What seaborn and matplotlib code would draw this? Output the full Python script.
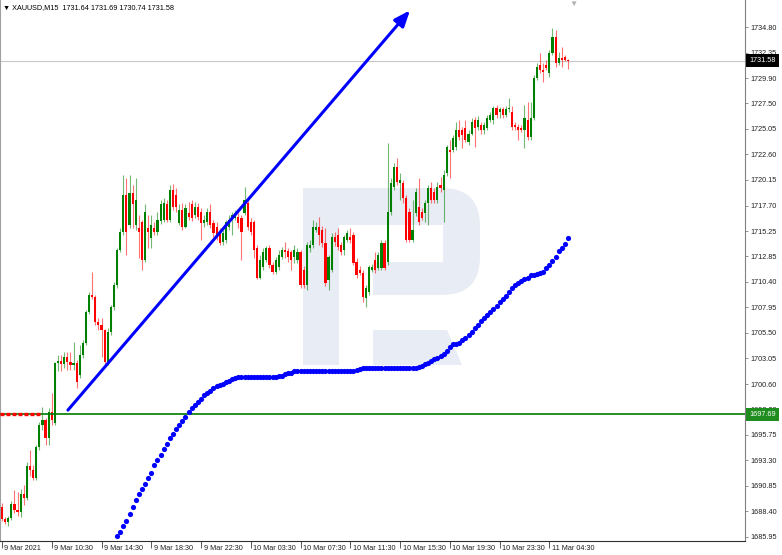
import matplotlib
matplotlib.use("Agg")
import matplotlib.pyplot as plt
import matplotlib.transforms as mtransforms
from matplotlib.patches import FancyBboxPatch, Rectangle, Polygon
import numpy as np
import pandas as pd
import seaborn as sns

# ---------------- data (XAUUSD, M15) ----------------
symbol = "XAUUSD"
timeframe = "M15"

opens = [
    1688.8, 1687.7, 1687.4, 1687.8, 1689.1, 1688.5, 1688.3, 1690.1, 1689.7, 1692.7,
    1692.4, 1691.6, 1694.6, 1696.7, 1697.2, 1695.4, 1697.9, 1696.9, 1702.6, 1702.8,
    1702.5, 1703.2, 1702.7, 1702.4, 1702.6, 1701.5, 1703.4, 1704.5, 1707.5, 1709.1,
    1708.9, 1706.5, 1706.3, 1705.8, 1702.7, 1705.6, 1708.0, 1710.1, 1713.4, 1715.2,
    1718.7, 1715.8, 1718.9, 1715.8, 1715.5, 1716.1, 1712.5, 1715.5, 1714.6, 1715.5,
    1715.2, 1716.2, 1716.3, 1717.8, 1716.3, 1719.2, 1718.7, 1716.0, 1717.3, 1715.6,
    1717.0, 1717.8, 1716.8, 1717.6, 1717.1, 1716.0, 1716.1, 1717.1, 1716.0, 1715.6,
    1715.2, 1714.2, 1714.4, 1715.6, 1716.5, 1716.5, 1716.6, 1716.5, 1717.0, 1717.9,
    1716.1, 1716.1, 1713.6, 1710.8, 1711.8, 1712.5, 1713.6, 1712.0, 1711.3, 1711.8,
    1712.8, 1713.4, 1713.3, 1713.2, 1712.8,
    1712.5, 1713.2, 1711.5, 1710.1, 1713.6, 1713.9, 1715.4, 1715.6, 1715.4, 1714.1,
    1710.6, 1711.5, 1714.7, 1714.9, 1713.9, 1713.4, 1714.4, 1714.7, 1714.9, 1712.3,
    1711.5, 1711.2, 1708.8, 1709.4, 1711.5, 1712.5, 1711.7, 1711.7, 1714.1, 1712.3,
    1717.1, 1719.5, 1721.4, 1719.9, 1719.9, 1718.4, 1717.1, 1714.4, 1717.0, 1717.6,
    1717.1, 1717.0, 1717.9, 1719.4, 1719.0, 1718.2, 1719.7, 1719.2, 1720.8, 1723.0,
    1723.0, 1723.3, 1724.9, 1724.9, 1725.1, 1723.8, 1724.6, 1725.9, 1725.2, 1725.4,
    1724.9, 1725.1, 1725.9, 1725.9, 1727.0, 1726.7, 1726.9, 1726.4, 1726.9, 1726.7,
    1725.4, 1725.2, 1725.1, 1724.9, 1725.9, 1724.3, 1726.1, 1729.9, 1731.2, 1730.7,
    1731.2, 1730.4, 1732.3, 1733.8, 1731.4, 1731.8, 1731.9, 1731.64,
]
highs = [
    1689.2, 1687.9, 1688.0, 1689.4, 1690.4, 1690.3, 1690.5, 1690.9, 1693.1, 1694.3,
    1692.8, 1694.8, 1697.0, 1698.4, 1697.3, 1698.3, 1699.7, 1702.7, 1703.4, 1703.4,
    1703.7, 1703.7, 1703.7, 1704.6, 1702.9, 1704.3, 1704.8, 1707.7, 1709.4, 1711.3,
    1709.1, 1706.9, 1706.9, 1705.9, 1706.0, 1708.2, 1710.4, 1713.6, 1715.5, 1720.6,
    1720.3, 1720.6, 1719.7, 1720.3, 1716.8, 1716.3, 1717.8, 1716.8, 1716.8, 1716.1,
    1717.1, 1718.2, 1718.4, 1718.2, 1719.7, 1719.8, 1719.4, 1717.8, 1717.9, 1717.8,
    1718.0, 1718.2, 1718.0, 1717.9, 1717.5, 1716.8, 1717.5, 1717.8, 1716.3, 1716.1,
    1715.5, 1715.4, 1716.3, 1716.8, 1717.1, 1717.3, 1717.0, 1716.8, 1719.5, 1718.2,
    1716.5, 1716.3, 1713.9, 1713.0, 1713.6, 1713.8, 1713.9, 1712.3, 1712.8, 1713.4,
    1713.7, 1714.2, 1713.6, 1713.4, 1713.9,
    1713.6, 1713.4, 1711.9, 1714.2, 1714.4, 1716.3, 1716.1, 1716.6, 1715.7, 1715.5,
    1713.0, 1715.1, 1715.2, 1715.5, 1714.2, 1714.9, 1715.4, 1715.5, 1715.2, 1712.7,
    1711.9, 1711.5, 1710.1, 1712.0, 1712.1, 1713.2, 1713.2, 1714.4, 1714.4, 1723.7,
    1720.3, 1721.8, 1722.3, 1720.8, 1720.1, 1718.7, 1717.5, 1718.2, 1719.4, 1720.3,
    1717.5, 1718.2, 1719.7, 1720.0, 1719.4, 1720.0, 1720.4, 1721.1, 1723.5, 1724.0,
    1724.5, 1725.7, 1725.9, 1725.2, 1725.9, 1724.9, 1726.1, 1726.2, 1726.3, 1725.7,
    1725.7, 1726.4, 1726.7, 1727.2, 1727.3, 1727.1, 1727.1, 1727.2, 1728.0, 1727.2,
    1725.7, 1725.5, 1725.4, 1727.3, 1727.6, 1727.6, 1730.2, 1731.4, 1732.3, 1731.4,
    1731.6, 1732.6, 1734.7, 1734.5, 1732.4, 1732.9, 1732.1, 1731.69,
]
lows = [
    1687.5, 1687.2, 1687.0, 1687.6, 1688.2, 1688.0, 1687.9, 1689.0, 1689.5, 1691.8,
    1691.4, 1691.4, 1694.3, 1696.2, 1694.8, 1694.8, 1696.7, 1696.7, 1701.8, 1701.8,
    1702.1, 1701.9, 1701.9, 1701.9, 1700.2, 1701.2, 1703.1, 1704.3, 1707.3, 1708.7,
    1706.3, 1705.8, 1703.2, 1702.4, 1702.4, 1705.3, 1707.7, 1709.8, 1713.2, 1714.9,
    1713.0, 1715.5, 1715.5, 1715.4, 1712.7, 1711.5, 1712.3, 1713.6, 1713.6, 1714.9,
    1714.9, 1715.9, 1716.1, 1716.1, 1716.1, 1717.3, 1717.1, 1715.8, 1715.4, 1715.5,
    1716.3, 1716.2, 1716.5, 1716.3, 1714.4, 1715.6, 1715.8, 1715.5, 1714.7, 1714.4,
    1713.9, 1713.9, 1714.1, 1715.4, 1714.9, 1716.3, 1715.5, 1712.5, 1716.8, 1715.4,
    1714.9, 1712.7, 1710.7, 1710.7, 1711.5, 1712.3, 1711.7, 1711.1, 1711.1, 1711.5,
    1712.6, 1712.7, 1712.3, 1711.5, 1712.2,
    1712.2, 1709.8, 1709.8, 1709.6, 1713.2, 1713.6, 1715.2, 1713.9, 1713.7, 1710.0,
    1709.6, 1711.3, 1713.8, 1713.4, 1713.0, 1713.0, 1714.2, 1714.1, 1712.0, 1710.8,
    1711.0, 1708.5, 1708.0, 1709.1, 1711.3, 1711.2, 1711.5, 1711.5, 1711.5, 1712.0,
    1716.8, 1719.2, 1719.7, 1718.2, 1717.9, 1714.2, 1714.2, 1714.2, 1716.7, 1715.8,
    1716.3, 1716.1, 1715.8, 1717.9, 1717.9, 1717.9, 1719.0, 1716.1, 1720.5, 1720.3,
    1722.8, 1723.0, 1724.0, 1723.2, 1723.8, 1723.5, 1724.5, 1723.3, 1724.9, 1724.6,
    1724.6, 1724.9, 1725.7, 1725.5, 1726.1, 1726.1, 1726.1, 1726.2, 1726.7, 1724.9,
    1724.9, 1724.0, 1724.7, 1723.2, 1724.0, 1724.0, 1725.9, 1729.7, 1730.4, 1729.5,
    1730.7, 1730.0, 1732.1, 1731.0, 1731.2, 1731.0, 1731.5, 1730.74,
]
closes = [
    1687.7, 1687.4, 1687.8, 1689.1, 1688.5, 1688.3, 1690.1, 1689.7, 1692.7, 1692.4,
    1691.6, 1694.6, 1696.7, 1697.2, 1695.4, 1697.9, 1697.2, 1702.6, 1702.8, 1702.5,
    1703.2, 1702.7, 1702.4, 1702.6, 1700.8, 1703.4, 1704.5, 1707.5, 1709.1, 1708.9,
    1706.5, 1706.3, 1705.8, 1702.7, 1705.6, 1708.0, 1710.1, 1713.4, 1715.2, 1718.7,
    1715.2, 1718.9, 1717.8, 1718.2, 1715.2, 1712.5, 1717.1, 1715.2, 1715.8, 1715.2,
    1716.3, 1717.8, 1717.9, 1716.3, 1719.2, 1717.6, 1717.6, 1717.3, 1715.6, 1717.5,
    1716.6, 1716.5, 1717.6, 1716.6, 1716.0, 1716.3, 1717.1, 1715.8, 1715.1, 1714.9,
    1714.1, 1715.1, 1716.1, 1716.3, 1716.8, 1717.0, 1716.0, 1715.2, 1718.2, 1715.6,
    1715.2, 1713.4, 1710.8, 1712.5, 1713.2, 1713.6, 1712.0, 1711.3, 1712.5, 1713.0,
    1713.4, 1713.2, 1712.8, 1712.5, 1713.4,
    1713.2, 1710.1, 1710.1, 1713.9, 1713.9, 1715.6, 1715.6, 1714.9, 1714.1, 1710.3,
    1712.8, 1714.7, 1714.2, 1713.7, 1713.2, 1714.7, 1715.1, 1714.4, 1712.2, 1711.0,
    1711.2, 1708.9, 1709.8, 1711.8, 1711.8, 1711.5, 1713.0, 1714.1, 1711.7, 1717.1,
    1719.9, 1721.4, 1720.0, 1720.1, 1718.4, 1714.4, 1714.4, 1715.4, 1719.0, 1716.1,
    1716.5, 1717.9, 1719.4, 1718.2, 1718.2, 1719.5, 1719.4, 1720.6, 1723.3, 1722.8,
    1724.2, 1724.9, 1724.3, 1724.5, 1724.0, 1724.6, 1725.7, 1725.1, 1725.9, 1724.9,
    1725.4, 1726.1, 1726.4, 1727.0, 1726.4, 1726.9, 1726.4, 1726.9, 1727.0, 1725.2,
    1725.2, 1724.9, 1724.9, 1726.1, 1724.3, 1726.1, 1729.9, 1731.0, 1730.7, 1730.5,
    1730.9, 1732.3, 1733.8, 1731.4, 1731.8, 1731.6, 1731.6, 1731.58,
]

# blue dotted indicator, one value per bar starting at bar 37
sar_first_bar = 37
sar_values = [
    1686.0, 1686.4, 1687.0, 1687.5, 1688.1, 1688.8, 1689.5, 1690.1, 1690.5, 1691.0,
    1691.6, 1692.1, 1692.8, 1693.3, 1693.8, 1694.4, 1694.9, 1695.4, 1695.8, 1696.3,
    1696.7, 1697.1, 1697.4, 1697.9, 1698.3, 1698.6, 1698.9, 1699.2, 1699.5, 1699.7,
    1699.9, 1700.2, 1700.4, 1700.5, 1700.6, 1700.8, 1700.9, 1701.1, 1701.2, 1701.3,
    1701.3, 1701.3, 1701.3, 1701.3, 1701.3, 1701.3, 1701.3, 1701.3, 1701.3, 1701.3,
    1701.3, 1701.3, 1701.35, 1701.4, 1701.6, 1701.7, 1701.7, 1701.8, 1701.8, 1701.8,
    1701.8, 1701.8, 1701.8, 1701.8, 1701.8, 1701.8, 1701.8, 1701.8, 1701.8, 1701.8,
    1701.8, 1701.8, 1701.8, 1701.8, 1701.8, 1701.8, 1701.8, 1701.9, 1702.0, 1702.1,
    1702.1, 1702.1, 1702.1, 1702.1, 1702.1, 1702.1, 1702.1, 1702.1, 1702.1, 1702.1,
    1702.1, 1702.1, 1702.1, 1702.1, 1702.1, 1702.1, 1702.1, 1702.2, 1702.3, 1702.5,
    1702.6, 1702.8, 1703.0, 1703.1, 1703.3, 1703.5, 1703.8, 1704.1, 1704.4, 1704.4,
    1704.5, 1704.8, 1705.0, 1705.3, 1705.6, 1706.0, 1706.3, 1706.6, 1706.9, 1707.2,
    1707.5, 1707.8, 1708.1, 1708.5, 1708.7, 1709.0, 1709.4, 1709.8, 1710.1, 1710.3,
    1710.5, 1710.7, 1710.8, 1711.0, 1711.0, 1711.1, 1711.2, 1711.3, 1711.7, 1712.0,
    1712.4, 1712.8, 1713.3, 1713.6, 1714.0, 1714.6,
]

tick_bars = [0, 16, 32, 48, 64, 80, 96, 112, 128, 144, 160, 176]
tick_labels = ["9 Mar 2021", "9 Mar 10:30", "9 Mar 14:30", "9 Mar 18:30", "9 Mar 22:30",
               "10 Mar 03:30", "10 Mar 07:30", "10 Mar 11:30", "10 Mar 15:30",
               "10 Mar 19:30", "10 Mar 23:30", "11 Mar 04:30"]
price_ticks = [1734.80, 1732.35, 1729.90, 1727.50, 1725.05, 1722.60, 1720.15, 1717.70,
               1715.25, 1712.85, 1710.40, 1707.95, 1705.50, 1703.05, 1700.60, 1698.20,
               1695.75, 1693.30, 1690.85, 1688.40, 1685.95]
level_price = 1697.69
prev_level_end_bar = 12.2
arrow_bars = [21.2, 131.2]
arrow_prices = [1698.1, 1736.4]
x_range = (-0.64, 238.9)
y_range = (1685.56, 1737.39)

# ---------------- drawing ----------------
sns.set_theme(style="white")
plt.rcParams['font.family'] = ['Liberation Sans', 'DejaVu Sans']

W, H = 782, 555
fig = plt.figure(figsize=(W / 100, H / 100), dpi=100, facecolor='white')
ax = fig.add_axes([0, 14 / H, 745 / W, 541 / H])
ax.set_facecolor('white')

# watermark logo (pixel coordinates inside the axes)
pix = mtransforms.Affine2D().scale(1 / 745, -1 / 541).translate(0, 1) + ax.transAxes
WM = '#e8ecf4'
ax.add_patch(FancyBboxPatch((303, 188), 177, 107, boxstyle='round,pad=0,rounding_size=38',
                            fc=WM, ec='none', transform=pix, zorder=0.5))
ax.add_patch(Rectangle((303, 188), 90, 107, fc=WM, ec='none', transform=pix, zorder=0.5))
ax.add_patch(Rectangle((303, 188), 36, 177, fc=WM, ec='none', transform=pix, zorder=0.5))
ax.add_patch(Polygon([(373, 330), (447, 330), (462, 365), (373, 365)], closed=True,
                     fc=WM, ec='none', transform=pix, zorder=0.5))
ax.add_patch(Rectangle((339, 225), 104, 37, fc='white', ec='none', transform=pix, zorder=0.6))
ax.add_patch(Rectangle((339, 262), 34, 33, fc='white', ec='none', transform=pix, zorder=0.6))

o = np.array(opens); h = np.array(highs); l = np.array(lows); c = np.array(closes)
bars = np.arange(len(c))
up = c >= o
colors = np.where(up, '#008000', '#ff0000')

ax.axhline(closes[-1], color='#c8c8c8', lw=0.8, zorder=1.5)
ax.vlines(bars, l, h, colors=colors, linewidth=0.8, alpha=0.55, zorder=2)
ax.bar(bars, np.maximum(np.abs(c - o), 0.1), bottom=np.minimum(o, c), width=0.7,
       color=colors, linewidth=0, zorder=3)

ax.axhline(level_price, color='#007a00', lw=1.2, zorder=3.5)
ax.plot([x_range[0], prev_level_end_bar], [level_price, level_price], color='#ff0000',
        lw=2.4, ls=(0, (1.2, 0.6)), zorder=3.6, solid_capstyle='butt')

df = pd.DataFrame({'bar': np.arange(sar_first_bar, sar_first_bar + len(sar_values)),
                   'price': sar_values})
sns.scatterplot(data=df, x='bar', y='price', color='#0000ff', s=14, linewidth=0,
                ax=ax, zorder=4, legend=False)

ax.annotate('', xy=(arrow_bars[1], arrow_prices[1]), xytext=(arrow_bars[0], arrow_prices[0]),
            arrowprops=dict(arrowstyle='-|>,head_length=0.8,head_width=0.32', color='#0000ff',
                            lw=2.2, mutation_scale=12, shrinkA=0, shrinkB=0), zorder=5)

ax.set_xlim(*x_range)
ax.set_ylim(*y_range)
ax.set_xlabel('')
ax.set_ylabel('')

ax.yaxis.tick_right()
ax.set_yticks(price_ticks)
ax.set_yticklabels([f"{v:.2f}" for v in price_ticks])
ax.set_xticks(tick_bars)
ax.set_xticklabels(tick_labels, ha='left')
ax.tick_params(axis='y', right=True, left=False, length=2.5, width=0.6, color='#808080',
               pad=1.5, labelsize=5.2, labelcolor='#202020')
ax.tick_params(axis='x', bottom=True, length=5, width=0.6, color='#404040', pad=-2.0,
               labelsize=5.2, labelcolor='#202020')
off = mtransforms.ScaledTranslation(2.5 / 100, 0, fig.dpi_scale_trans)
for lab in ax.get_xticklabels():
    lab.set_transform(lab.get_transform() + off)

ax.spines['top'].set_visible(False)
ax.spines['right'].set_color('#808080')
ax.spines['left'].set_color('#a0a0a0')
ax.spines['bottom'].set_color('#303030')
for sp in ['right', 'left', 'bottom']:
    ax.spines[sp].set_linewidth(0.8)

blend = mtransforms.blended_transform_factory(ax.transAxes, ax.transData)
off_r = mtransforms.ScaledTranslation(4 / 100, 0, fig.dpi_scale_trans)
ax.text(1.0, closes[-1], f"{closes[-1]:.2f}", transform=blend + off_r, ha='left', va='center',
        fontsize=5.2, color='white', clip_on=False, zorder=10,
        bbox=dict(boxstyle='square,pad=0.45', fc='black', ec='none'))
ax.text(1.0, level_price, f"{level_price:.2f}", transform=blend + off_r, ha='left', va='center',
        fontsize=5.2, color='white', clip_on=False, zorder=10,
        bbox=dict(boxstyle='square,pad=0.45', fc='#1e8c1e', ec='none'))

header = (f"\u25BC {symbol},{timeframe}  {opens[-1]:.2f} {highs[-1]:.2f} "
          f"{lows[-1]:.2f} {closes[-1]:.2f}")
fig.text(3 / W, 1 - 8 / H, header, fontsize=5.2, va='center', ha='left', color='black')
fig.text(573 / W, 1 - 4 / H, "\u25BC", fontsize=6, va='center', ha='center', color='#b0b0b0')

fig.savefig('out.png', dpi=100, facecolor='white')
